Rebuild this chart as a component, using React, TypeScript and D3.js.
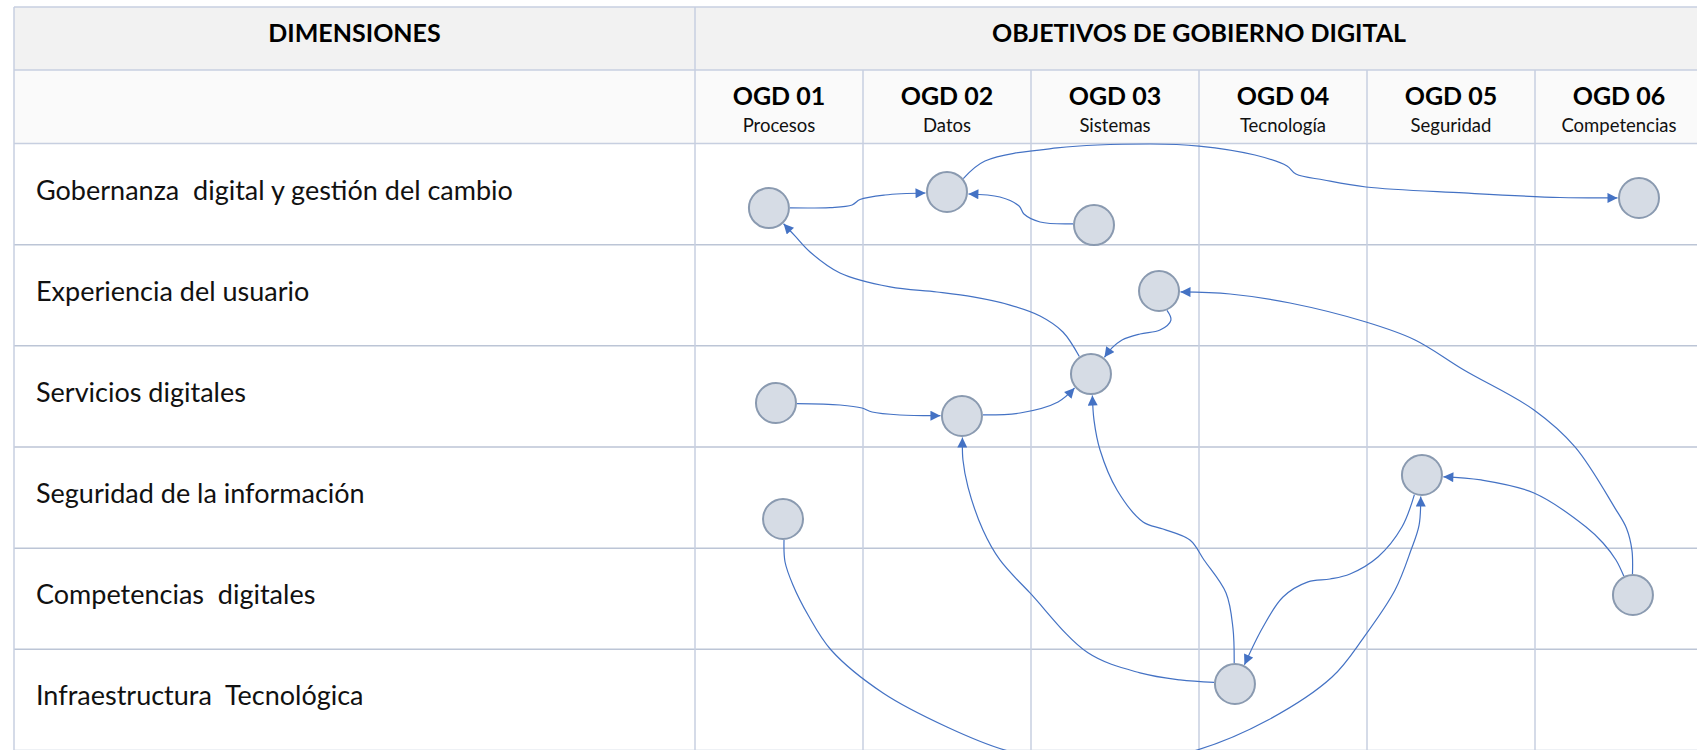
import React from "react";
import * as d3 from "d3";

// ---------- data ----------
const dimensions = [
  "Gobernanza  digital y gestión del cambio",
  "Experiencia del usuario",
  "Servicios digitales",
  "Seguridad de la información",
  "Competencias  digitales",
  "Infraestructura  Tecnológica",
];
const objectiveCodes = ["OGD 01", "OGD 02", "OGD 03", "OGD 04", "OGD 05", "OGD 06"];
const objectiveNames = ["Procesos", "Datos", "Sistemas", "Tecnología", "Seguridad", "Competencias"];

// node position: column in objective units (0..6), row in dimension units (0..6)
const nodeIds = ["A", "B", "C", "D", "E", "F", "G", "H", "I", "J", "K", "L"];
const nodeCol = [0.44, 1.5, 2.375, 2.762, 5.619, 0.482, 1.589, 2.357, 0.524, 4.327, 5.583, 3.214];
const nodeRow = [0.638, 0.479, 0.806, 1.458, 0.539, 2.565, 2.694, 2.279, 3.712, 3.277, 4.463, 5.343];

// connectors: source, target and the route they follow (column units, row units)
const edgeFrom = ["A", "C", "B", "H", "D", "F", "G", "L", "L", "J", "I", "K", "K"];
const edgeTo = ["B", "B", "E", "A", "H", "G", "H", "G", "H", "L", "J", "J", "D"];
const edgeVia: [number, number][][] = [
  [[0.804, 0.633], [0.935, 0.608], [0.982, 0.554], [1.131, 0.509]],
  [[2.054, 0.776], [1.958, 0.697], [1.929, 0.618], [1.815, 0.529]],
  [[1.726, 0.173], [2.155, 0.044], [2.708, 0.005], [3.0, 0.025], [3.333, 0.114], [3.524, 0.222], [3.577, 0.302], [3.744, 0.361], [3.994, 0.43], [4.577, 0.489], [5.149, 0.534]],
  [[2.19, 1.863], [2.054, 1.705], [1.875, 1.597], [1.655, 1.517], [1.44, 1.468], [1.161, 1.418], [0.863, 1.28], [0.685, 1.073], [0.595, 0.914]],
  [[2.833, 1.745], [2.768, 1.844], [2.649, 1.883], [2.542, 1.942], [2.482, 2.021]],
  [[0.863, 2.585], [0.994, 2.615], [1.054, 2.654], [1.22, 2.684]],
  [[1.935, 2.664], [2.161, 2.555]],
  [[2.887, 5.303], [2.649, 5.233], [2.339, 5.035], [1.994, 4.443], [1.815, 4.117], [1.714, 3.821], [1.625, 3.396], [1.595, 3.129]],
  [[3.202, 4.789], [3.161, 4.443], [3.03, 4.117], [2.946, 3.92], [2.786, 3.811], [2.667, 3.741], [2.512, 3.425], [2.411, 3.03], [2.375, 2.734]],
  [[4.208, 3.791], [4.065, 4.087], [3.899, 4.255], [3.78, 4.305], [3.649, 4.334], [3.5, 4.483], [3.381, 4.78]],
  [[0.536, 4.137], [0.583, 4.364], [0.673, 4.661], [0.81, 5.007], [1.119, 5.432], [1.5, 5.768], [1.845, 5.996], [2.411, 6.174], [2.988, 5.996], [3.411, 5.699], [3.792, 5.274], [3.982, 4.879], [4.167, 4.414], [4.262, 4.019], [4.31, 3.772]],
  [[5.482, 4.117], [5.405, 3.949], [5.304, 3.791], [4.994, 3.455], [4.679, 3.326]],
  [[5.577, 4.02], [5.545, 3.805], [5.476, 3.604], [5.238, 2.999], [4.994, 2.634], [4.577, 2.239], [4.286, 1.942], [3.994, 1.765], [3.542, 1.577], [3.185, 1.488]],
];

// ---------- layout ----------
const W = 1697;
const H = 750;
const tableLeft = 14;
const tableTop = 7;
const headerSplit = 70;
const bodyTop = 143.5;
const dimRight = 695;
const colW = 168;
const rowH = 101.16;
const R = 20;

const FONT = "Lato, 'Open Sans', sans-serif";
const GRID = "#c7cfe0";
const BLUE = "#4472c4";

export default function App() {
  const x = d3.scaleLinear().domain([0, 6]).range([dimRight, dimRight + 6 * colW]);
  const y = d3.scaleLinear().domain([0, 6]).range([bodyTop, bodyTop + 6 * rowH]);

  const pos: Record<string, [number, number]> = {};
  nodeIds.forEach((id, i) => {
    pos[id] = [x(nodeCol[i]), y(nodeRow[i])];
  });

  const line = d3.line<[number, number]>().curve(d3.curveCatmullRom.alpha(0.5));

  const edgePaths = edgeFrom.map((f, i) => {
    const s = pos[f];
    const t = pos[edgeTo[i]];
    const pts = edgeVia[i].map(([u, v]) => [x(u), y(v)] as [number, number]);
    const p1 = pts[0];
    const pn = pts[pts.length - 1];
    const d1 = Math.hypot(p1[0] - s[0], p1[1] - s[1]);
    const dn = Math.hypot(pn[0] - t[0], pn[1] - t[1]);
    const start: [number, number] = [s[0] + ((R + 1) * (p1[0] - s[0])) / d1, s[1] + ((R + 1) * (p1[1] - s[1])) / d1];
    const end: [number, number] = [t[0] + ((R + 1.5) * (pn[0] - t[0])) / dn, t[1] + ((R + 1.5) * (pn[1] - t[1])) / dn];
    return line([start, ...pts, end]) || "";
  });

  const rowIdx = d3.range(0, 7);
  const colIdx = d3.range(1, 6);

  return (
    <svg
      width={W}
      height={H}
      style={{ position: "absolute", left: 0, top: 0, display: "block", background: "#fff" }}
      fontFamily={FONT}
    >
      <defs>
        <marker
          id="arrow"
          viewBox="0 0 10 10"
          refX={10}
          refY={5}
          markerWidth={11}
          markerHeight={10}
          markerUnits="userSpaceOnUse"
          orient="auto"
        >
          <path d="M0,0 L10,5 L0,10 z" fill={BLUE} />
        </marker>
        <clipPath id="clip">
          <rect x={0} y={0} width={W} height={H} />
        </clipPath>
      </defs>

      {/* header backgrounds */}
      <rect x={tableLeft} y={tableTop} width={W - tableLeft} height={headerSplit - tableTop} fill="#f2f2f2" />
      <rect x={tableLeft} y={headerSplit} width={W - tableLeft} height={bodyTop - headerSplit} fill="#fafafa" />

      {/* grid */}
      <g stroke={GRID} strokeWidth={1.5} fill="none">
        <line x1={tableLeft} x2={W} y1={tableTop} y2={tableTop} />
        <line x1={tableLeft} x2={W} y1={headerSplit} y2={headerSplit} />
        {rowIdx.map((i) => (
          <line key={"r" + i} x1={tableLeft} x2={W} y1={y(i)} y2={y(i)} stroke={i === 0 ? GRID : "#bcc5d6"} />
        ))}
        <line x1={tableLeft} x2={tableLeft} y1={tableTop} y2={H} />
        <line x1={x(0)} x2={x(0)} y1={tableTop} y2={H} />
        {colIdx.map((i) => (
          <line key={"c" + i} x1={x(i)} x2={x(i)} y1={headerSplit} y2={H} />
        ))}
      </g>

      {/* header texts */}
      <text x={(tableLeft + dimRight) / 2} y={42} textAnchor="middle" fontWeight={700} fontSize={25} fill="#000">
        DIMENSIONES
      </text>
      <text x={x(3)} y={42} textAnchor="middle" fontWeight={700} fontSize={25} fill="#000">
        OBJETIVOS DE GOBIERNO DIGITAL
      </text>
      {objectiveCodes.map((c, i) => (
        <g key={c}>
          <text x={x(i + 0.5)} y={105} textAnchor="middle" fontWeight={700} fontSize={25} fill="#000">
            {c}
          </text>
          <text x={x(i + 0.5)} y={132} textAnchor="middle" fontSize={18.5} fill="#111">
            {objectiveNames[i]}
          </text>
        </g>
      ))}

      {/* row labels */}
      {dimensions.map((d, i) => (
        <text key={d} x={36} y={y(i) + 56} fontSize={27} fill="#111" style={{ whiteSpace: "pre" }}>
          {d}
        </text>
      ))}

      {/* connectors */}
      <g clipPath="url(#clip)" fill="none" stroke={BLUE} strokeWidth={1.2}>
        {edgePaths.map((p, i) => (
          <path key={i} d={p} markerEnd="url(#arrow)" />
        ))}
      </g>

      {/* nodes */}
      <g>
        {nodeIds.map((id) => (
          <circle key={id} cx={pos[id][0]} cy={pos[id][1]} r={R} fill="#d6dce5" stroke="#8a9ab0" strokeWidth={2} />
        ))}
      </g>
    </svg>
  );
}
